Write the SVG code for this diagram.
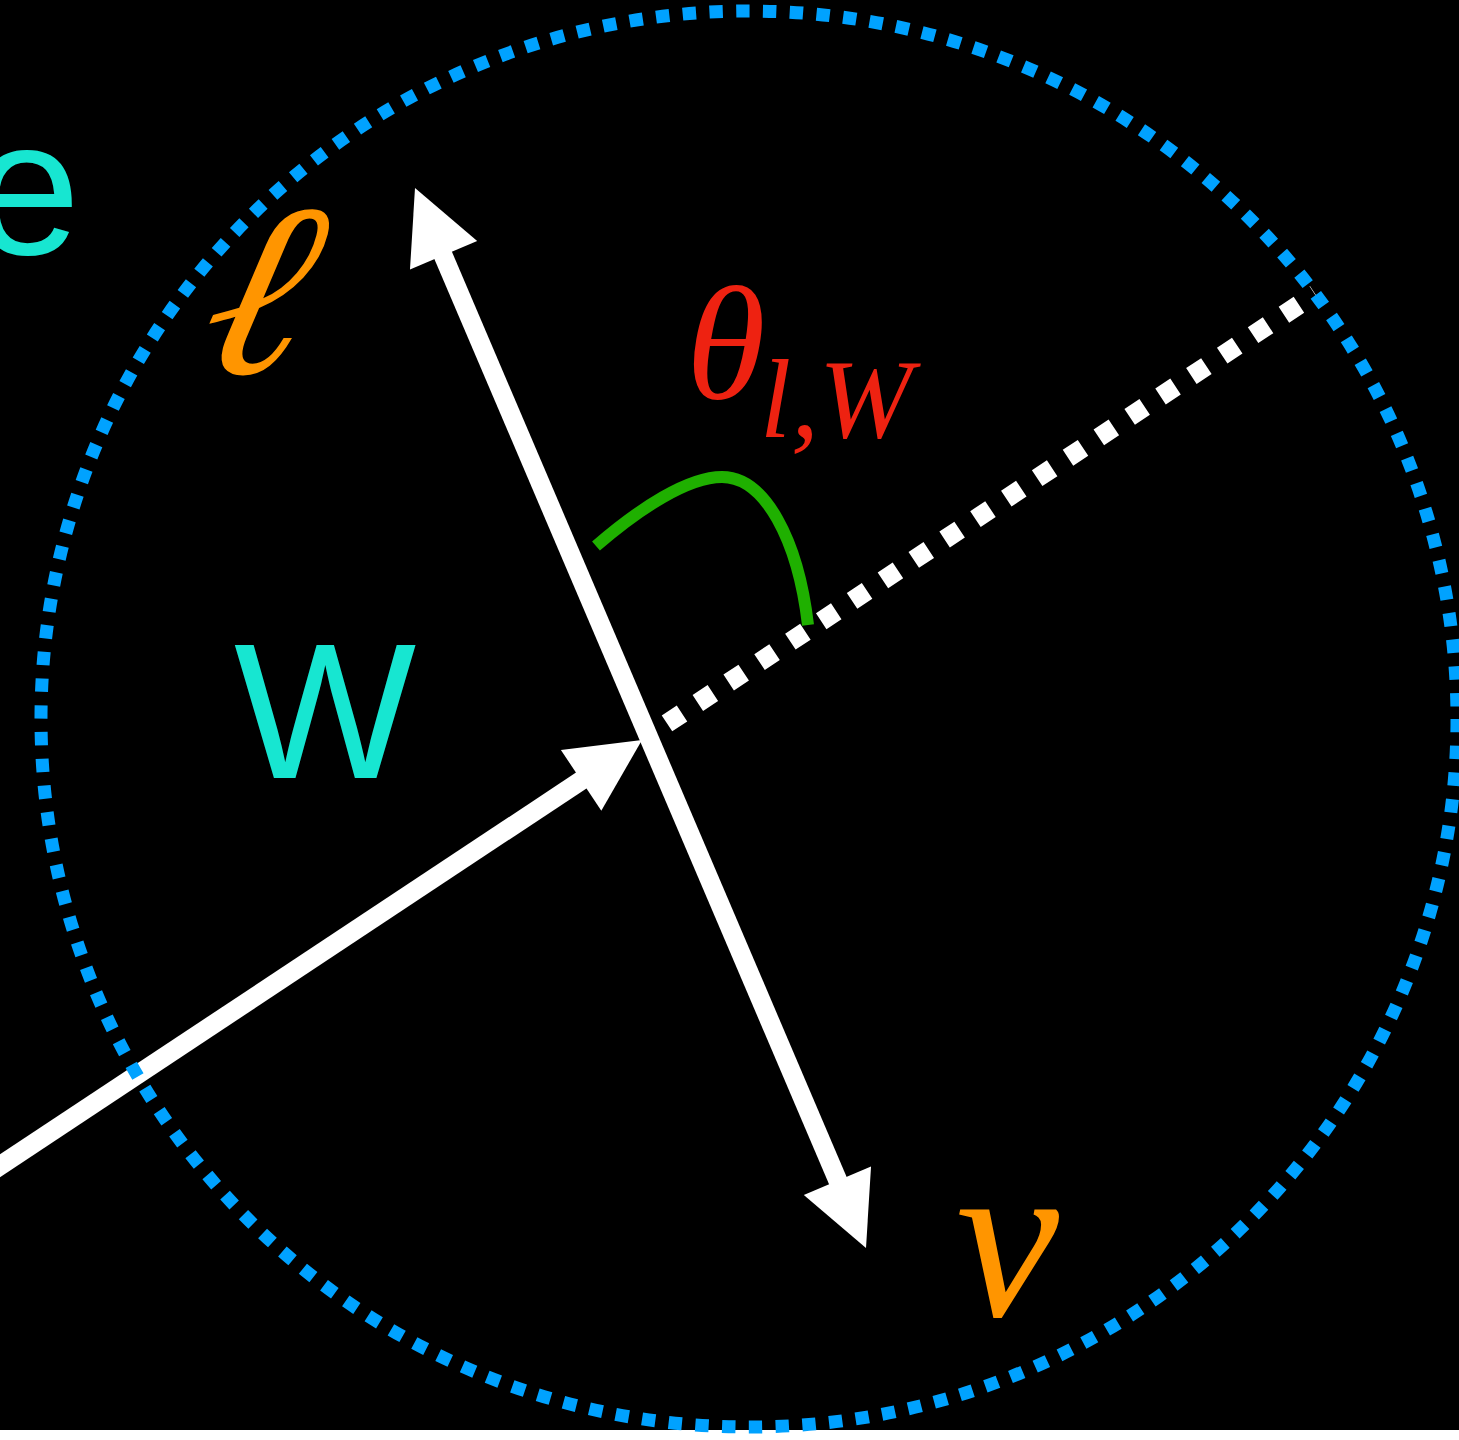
<svg xmlns="http://www.w3.org/2000/svg" width="1459" height="1440" viewBox="0 0 1459 1440">
<style>
.sans{font-family:"Liberation Sans",Arial,sans-serif;fill:#17e6d1}
.math{font-family:"Liberation Serif","Times New Roman",serif;font-style:italic}
.org{fill:#ff9500}
.red{fill:#ee2211}
.shaft{stroke:#fff;stroke-width:19;fill:none}
.head{fill:#fff}
</style>
<rect x="0" y="0" width="1459" height="1440" fill="#fff"/>
<rect x="0" y="0" width="1459" height="1430" fill="#000"/>
<g id="connectors">
  <line class="shaft" x1="-20" y1="1179" x2="585" y2="778"/>
  <polygon class="head" points="642,740 601.3,810.7 560.9,749.9"/>
  <line class="shaft" x1="667" y1="723.4" x2="1315.2" y2="294" stroke-dasharray="18 19"/>
  <line class="shaft" x1="440" y1="248" x2="841" y2="1188"/>
  <polygon class="head" points="415,188 477.2,240.9 410,269.5"/>
  <polygon class="head" points="866,1248 871,1166.5 803.8,1195.1"/>
  <path id="angle-arc" d="M596,546 C640,508 688,477 722,477 C765,477 798,540 808,625" fill="none" stroke="#1fb000" stroke-width="12"/>
</g>
<g id="circle">
  <circle cx="749" cy="719" r="708" fill="none" stroke="#00a2ff" stroke-width="13" stroke-dasharray="13.4 13.4"/>
</g>
<g id="label-e"><text class="sans" x="-27" y="254" font-size="193">e</text></g>
<g id="label-W"><text class="sans" x="234" y="778" font-size="193">W</text></g>
<g id="label-ell"><text class="math org" transform="translate(192,373) skewX(-14)" x="0" y="0" font-size="246">ℓ</text></g>
<g id="label-nu"><text class="math org" x="956" y="1316" font-size="232">ν</text></g>
<g id="label-theta"><text class="math red" x="686" y="398" font-size="162">θ<tspan x="760" y="437" font-size="112">l,W</tspan></text></g>
</svg>
